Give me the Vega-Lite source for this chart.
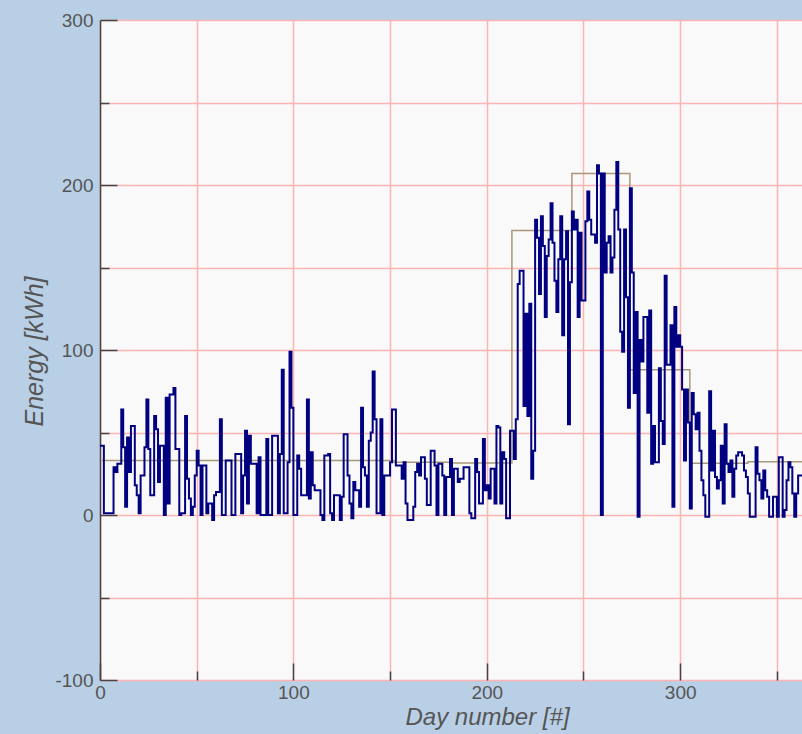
{
"$schema":"https://vega.github.io/schema/vega-lite/v6.json",
"width":702,"height":660,
"autosize":{"type":"none"},
"padding":{"left":100,"top":20,"right":0,"bottom":54},
"background":"#b8cfe6",
"config":{"view":{"fill":"#f9f9f9","stroke":null},
"axis":{"labelFont":"Liberation Sans","labelFontSize":19,"labelColor":"#555555","titleFont":"Liberation Sans","titleFontSize":24,"titleFontStyle":"italic","titleFontWeight":"normal","titleColor":"#555555","gridColor":"#ffb4b4","gridWidth":1.5,"gridOpacity":1,"tickColor":"#444444","tickWidth":1.5,"domainColor":"#444444","domainWidth":1.5,"labelFlush":false,"labelOverlap":false,"labelBound":false}},
"datasets":{
"monthly":[{"d":1,"v":33},{"d":32,"v":33},{"d":60,"v":33},{"d":91,"v":33},{"d":121,"v":33},{"d":152,"v":32},{"d":182,"v":31.5},{"d":213,"v":172.5},{"d":244,"v":207},{"d":274,"v":88},{"d":305,"v":31.3},{"d":335,"v":32.3},{"d":366,"v":32.3}],
"daily":[{"d":0,"v":42},{"d":1,"v":42},{"d":2,"v":1},{"d":3,"v":1},{"d":4,"v":1},{"d":5,"v":1},{"d":6,"v":1},{"d":7,"v":29},{"d":8,"v":26},{"d":9,"v":31},{"d":10,"v":31},{"d":11,"v":64},{"d":12,"v":41},{"d":13,"v":5},{"d":14,"v":47},{"d":15,"v":26},{"d":16,"v":54},{"d":17,"v":54},{"d":18,"v":18},{"d":19,"v":12},{"d":20,"v":1},{"d":21,"v":24},{"d":22,"v":24},{"d":23,"v":41},{"d":24,"v":70},{"d":25,"v":40},{"d":26,"v":12},{"d":27,"v":12},{"d":28,"v":60},{"d":29,"v":52},{"d":30,"v":20},{"d":31,"v":42},{"d":32,"v":42},{"d":33,"v":0},{"d":34,"v":71},{"d":35,"v":7},{"d":36,"v":73},{"d":37,"v":73},{"d":38,"v":77},{"d":39,"v":40},{"d":40,"v":40},{"d":41,"v":0},{"d":42,"v":1},{"d":43,"v":1},{"d":44,"v":60},{"d":45,"v":22},{"d":46,"v":10},{"d":47,"v":0},{"d":48,"v":5},{"d":49,"v":24},{"d":50,"v":39},{"d":51,"v":30},{"d":52,"v":0},{"d":53,"v":30},{"d":54,"v":30},{"d":55,"v":1},{"d":56,"v":7},{"d":57,"v":7},{"d":58,"v":-3},{"d":59,"v":12},{"d":60,"v":14},{"d":61,"v":14},{"d":62,"v":58},{"d":63,"v":0},{"d":64,"v":0},{"d":65,"v":33},{"d":66,"v":33},{"d":67,"v":33},{"d":68,"v":0},{"d":69,"v":0},{"d":70,"v":37},{"d":71,"v":37},{"d":72,"v":37},{"d":73,"v":1},{"d":74,"v":24},{"d":75,"v":51},{"d":76,"v":7},{"d":77,"v":48},{"d":78,"v":31},{"d":79,"v":31},{"d":80,"v":31},{"d":81,"v":1},{"d":82,"v":35},{"d":83,"v":0},{"d":84,"v":0},{"d":85,"v":0},{"d":86,"v":46},{"d":87,"v":0},{"d":88,"v":0},{"d":89,"v":48},{"d":90,"v":48},{"d":91,"v":48},{"d":92,"v":1},{"d":93,"v":37},{"d":94,"v":88},{"d":95,"v":1},{"d":96,"v":1},{"d":97,"v":32},{"d":98,"v":99},{"d":99,"v":65},{"d":100,"v":0},{"d":101,"v":0},{"d":102,"v":36},{"d":103,"v":28},{"d":104,"v":12},{"d":105,"v":12},{"d":106,"v":12},{"d":107,"v":70},{"d":108,"v":10},{"d":109,"v":38},{"d":110,"v":18},{"d":111,"v":15},{"d":112,"v":15},{"d":113,"v":15},{"d":114,"v":0},{"d":115,"v":-3},{"d":116,"v":36},{"d":117,"v":36},{"d":118,"v":37},{"d":119,"v":1},{"d":120,"v":-3},{"d":121,"v":12},{"d":122,"v":12},{"d":123,"v":12},{"d":124,"v":-3},{"d":125,"v":11},{"d":126,"v":49},{"d":127,"v":49},{"d":128,"v":24},{"d":129,"v":7},{"d":130,"v":-2},{"d":131,"v":20},{"d":132,"v":15},{"d":133,"v":15},{"d":134,"v":5},{"d":135,"v":65},{"d":136,"v":29},{"d":137,"v":24},{"d":138,"v":5},{"d":139,"v":45},{"d":140,"v":50},{"d":141,"v":87},{"d":142,"v":58},{"d":143,"v":1},{"d":144,"v":1},{"d":145,"v":58},{"d":146,"v":0},{"d":147,"v":24},{"d":148,"v":24},{"d":149,"v":24},{"d":150,"v":32},{"d":151,"v":64},{"d":152,"v":64},{"d":153,"v":30},{"d":154,"v":30},{"d":155,"v":30},{"d":156,"v":22},{"d":157,"v":32},{"d":158,"v":7},{"d":159,"v":-3},{"d":160,"v":-3},{"d":161,"v":-3},{"d":162,"v":5},{"d":163,"v":26},{"d":164,"v":31},{"d":165,"v":24},{"d":166,"v":35},{"d":167,"v":35},{"d":168,"v":22},{"d":169,"v":6},{"d":170,"v":6},{"d":171,"v":39},{"d":172,"v":39},{"d":173,"v":30},{"d":174,"v":0},{"d":175,"v":31},{"d":176,"v":31},{"d":177,"v":24},{"d":178,"v":0},{"d":179,"v":23},{"d":180,"v":23},{"d":181,"v":34},{"d":182,"v":0},{"d":183,"v":28},{"d":184,"v":28},{"d":185,"v":20},{"d":186,"v":22},{"d":187,"v":22},{"d":188,"v":29},{"d":189,"v":29},{"d":190,"v":29},{"d":191,"v":1},{"d":192,"v":-2},{"d":193,"v":-2},{"d":194,"v":34},{"d":195,"v":26},{"d":196,"v":7},{"d":197,"v":7},{"d":198,"v":46},{"d":199,"v":15},{"d":200,"v":18},{"d":201,"v":10},{"d":202,"v":28},{"d":203,"v":28},{"d":204,"v":7},{"d":205,"v":54},{"d":206,"v":53},{"d":207,"v":7},{"d":208,"v":38},{"d":209,"v":34},{"d":210,"v":-2},{"d":211,"v":-2},{"d":212,"v":51},{"d":213,"v":51},{"d":214,"v":34},{"d":215,"v":58},{"d":216,"v":140},{"d":217,"v":148},{"d":218,"v":148},{"d":219,"v":66},{"d":220,"v":122},{"d":221,"v":60},{"d":222,"v":128},{"d":223,"v":22},{"d":224,"v":39},{"d":225,"v":179},{"d":226,"v":168},{"d":227,"v":134},{"d":228,"v":181},{"d":229,"v":163},{"d":230,"v":120},{"d":231,"v":157},{"d":232,"v":167},{"d":233,"v":189},{"d":234,"v":165},{"d":235,"v":142},{"d":236,"v":123},{"d":237,"v":155},{"d":238,"v":181},{"d":239,"v":109},{"d":240,"v":155},{"d":241,"v":172},{"d":242,"v":55},{"d":243,"v":141},{"d":244,"v":184},{"d":245,"v":173},{"d":246,"v":179},{"d":247,"v":120},{"d":248,"v":171},{"d":249,"v":130},{"d":250,"v":130},{"d":251,"v":178},{"d":252,"v":196},{"d":253,"v":179},{"d":254,"v":170},{"d":255,"v":170},{"d":256,"v":165},{"d":257,"v":212},{"d":258,"v":207},{"d":259,"v":0},{"d":260,"v":207},{"d":261,"v":147},{"d":262,"v":165},{"d":263,"v":169},{"d":264,"v":147},{"d":265,"v":156},{"d":266,"v":185},{"d":267,"v":214},{"d":268,"v":173},{"d":269,"v":111},{"d":270,"v":99},{"d":271,"v":173},{"d":272,"v":132},{"d":273,"v":65},{"d":274,"v":198},{"d":275,"v":147},{"d":276,"v":74},{"d":277,"v":123},{"d":278,"v":-1},{"d":279,"v":106},{"d":280,"v":93},{"d":281,"v":120},{"d":282,"v":120},{"d":283,"v":62},{"d":284,"v":124},{"d":285,"v":31},{"d":286,"v":54},{"d":287,"v":32},{"d":288,"v":32},{"d":289,"v":89},{"d":290,"v":57},{"d":291,"v":43},{"d":292,"v":145},{"d":293,"v":91},{"d":294,"v":91},{"d":295,"v":115},{"d":296,"v":5},{"d":297,"v":126},{"d":298,"v":102},{"d":299,"v":109},{"d":300,"v":102},{"d":301,"v":76},{"d":302,"v":33},{"d":303,"v":76},{"d":304,"v":56},{"d":305,"v":4},{"d":306,"v":74},{"d":307,"v":61},{"d":308,"v":52},{"d":309,"v":62},{"d":310,"v":39},{"d":311,"v":21},{"d":312,"v":12},{"d":313,"v":-1},{"d":314,"v":-1},{"d":315,"v":75},{"d":316,"v":27},{"d":317,"v":51},{"d":318,"v":23},{"d":319,"v":16},{"d":320,"v":21},{"d":321,"v":42},{"d":322,"v":7},{"d":323,"v":55},{"d":324,"v":31},{"d":325,"v":26},{"d":326,"v":33},{"d":327,"v":11},{"d":328,"v":28},{"d":329,"v":36},{"d":330,"v":38},{"d":331,"v":38},{"d":332,"v":36},{"d":333,"v":27},{"d":334,"v":23},{"d":335,"v":13},{"d":336,"v":-1},{"d":337,"v":-1},{"d":338,"v":-1},{"d":339,"v":41},{"d":340,"v":25},{"d":341,"v":21},{"d":342,"v":10},{"d":343,"v":27},{"d":344,"v":15},{"d":345,"v":11},{"d":346,"v":-1},{"d":347,"v":-1},{"d":348,"v":11},{"d":349,"v":11},{"d":350,"v":-1},{"d":351,"v":35},{"d":352,"v":35},{"d":353,"v":-1},{"d":354,"v":3},{"d":355,"v":21},{"d":356,"v":32},{"d":357,"v":29},{"d":358,"v":13},{"d":359,"v":-1},{"d":360,"v":13},{"d":361,"v":24},{"d":362,"v":24},{"d":363,"v":24},{"d":364,"v":30},{"d":365,"v":30}]
},
"layer":[
{"mark":{"type":"rule","color":"#ffc933","strokeWidth":1.5},"encoding":{"y":{"datum":0,"type":"quantitative"}}},
{"data":{"name":"monthly"},"mark":{"type":"line","interpolate":"step-after","color":"#a89878","strokeWidth":1.5,"clip":true},"encoding":{"x":{"field":"d","type":"quantitative"},"y":{"field":"v","type":"quantitative"}}},
{"data":{"name":"daily"},"mark":{"type":"line","interpolate":"step-after","color":"#000080","strokeWidth":2,"clip":true},
"encoding":{
"x":{"field":"d","type":"quantitative","scale":{"domain":[0,363],"nice":false,"zero":false},
"axis":{"title":"Day number [#]","values":[0,50,100,150,200,250,300,350],"labelExpr":"datum.value % 100 === 0 ? '' + datum.value : ''","domain":false,"grid":true,"tickSize":{"condition":{"test":"datum.value % 100 === 0","value":-17},"value":-9},"labelPadding":20,"titleX":387,"titleY":44,"titleAlign":"center","titleBaseline":"alphabetic","titleAnchor":"middle"}},
"y":{"field":"v","type":"quantitative","scale":{"domain":[-100,300],"nice":false,"zero":false},
"axis":{"title":"Energy [kWh]","titleFontSize":25,"values":[-100,-50,0,50,100,150,200,250,300],"labelExpr":"datum.value % 100 === 0 ? '' + datum.value : ''","domain":true,"grid":true,"tickSize":{"condition":{"test":"datum.value % 100 === 0","value":-17},"value":-9},"labelPadding":24,"titleX":-58,"titleY":331,"titleAngle":270,"titleAlign":"center","titleBaseline":"alphabetic","titleAnchor":"middle"}}
}}
]
}
